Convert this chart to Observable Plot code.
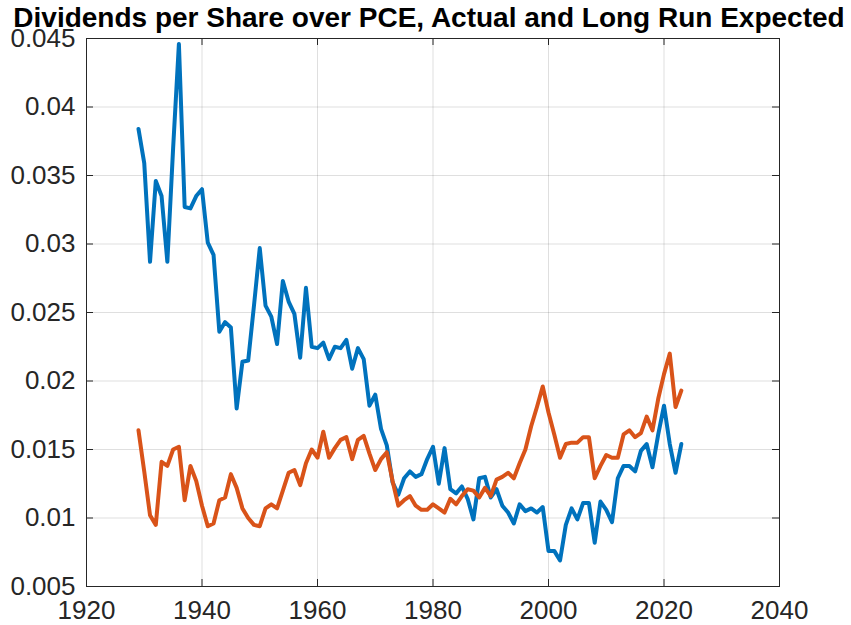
<!DOCTYPE html>
<html><head><meta charset="utf-8">
<script src="https://cdn.jsdelivr.net/npm/d3@7"></script>
<script src="https://cdn.jsdelivr.net/npm/@observablehq/plot@0.6"></script>
<style>body{margin:0;background:#fff;}</style>
</head><body><div id="chart"></div>
<script>
const title = "Dividends per Share over PCE, Actual and Long Run Expected";
const years = [1929,1930,1931,1932,1933,1934,1935,1936,1937,1938,1939,
1940,1941,1942,1943,1944,1945,1946,1947,1948,1949,
1950,1951,1952,1953,1954,1955,1956,1957,1958,1959,
1960,1961,1962,1963,1964,1965,1966,1967,1968,1969,
1970,1971,1972,1973,1974,1975,1976,1977,1978,1979,
1980,1981,1982,1983,1984,1985,1986,1987,1988,1989,
1990,1991,1992,1993,1994,1995,1996,1997,1998,1999,
2000,2001,2002,2003,2004,2005,2006,2007,2008,2009,
2010,2011,2012,2013,2014,2015,2016,2017,2018,2019,
2020,2021,2022,2023];
const actual = [0.0384,0.0359,0.0287,0.0346,0.0335,0.0287,0.0370,0.0446,0.0327,0.0326,0.0335,
0.0340,0.0301,0.0292,0.0236,0.0243,0.0239,0.0180,0.0214,0.0215,0.0255,
0.0297,0.0255,0.0247,0.0227,0.0273,0.0258,0.0249,0.0217,0.0268,0.0225,
0.0224,0.0228,0.0216,0.0225,0.0224,0.0230,0.0209,0.0224,0.0216,0.0182,
0.0190,0.0165,0.0153,0.0126,0.0117,0.0129,0.0134,0.0130,0.0132,0.0143,
0.0152,0.0125,0.0151,0.0121,0.0118,0.0123,0.0114,0.0099,0.0129,0.0130,
0.0115,0.0121,0.0109,0.0104,0.0096,0.0110,0.0105,0.0107,0.0104,0.0108,
0.0076,0.0076,0.0069,0.0095,0.0107,0.0099,0.0111,0.0111,0.0082,0.0112,
0.0106,0.0097,0.0129,0.0138,0.0138,0.0134,0.0149,0.0154,0.0137,0.0161,
0.0182,0.0154,0.0133,0.0154];
const expected = [0.0164,0.0134,0.0102,0.0095,0.0141,0.0138,0.0150,0.0152,0.0113,0.0138,0.0127,
0.0109,0.0094,0.0096,0.0113,0.0115,0.0132,0.0122,0.0107,0.0100,0.0095,
0.0094,0.0107,0.0110,0.0107,0.0120,0.0133,0.0135,0.0124,0.0140,0.0150,
0.0144,0.0163,0.0144,0.0151,0.0157,0.0159,0.0143,0.0157,0.0160,0.0147,
0.0135,0.0143,0.0148,0.0127,0.0109,0.0113,0.0116,0.0109,0.0106,0.0106,
0.0110,0.0107,0.0104,0.0114,0.0110,0.0116,0.0121,0.0120,0.0115,0.0122,
0.0116,0.0128,0.0130,0.0133,0.0129,0.0140,0.0150,0.0167,0.0181,0.0196,
0.0177,0.0161,0.0144,0.0154,0.0155,0.0155,0.0159,0.0159,0.0129,0.0138,
0.0146,0.0144,0.0144,0.0161,0.0164,0.0159,0.0162,0.0174,0.0164,0.0187,
0.0205,0.0220,0.0181,0.0193];
const xTicks = [1920,1940,1960,1980,2000,2020,2040];
const yTicks = [0.005,0.01,0.015,0.02,0.025,0.03,0.035,0.04,0.045];
const yTickLabels = ["0.005","0.01","0.015","0.02","0.025","0.03","0.035","0.04","0.045"];

const W = 851, H = 625, mL = 86, mR = 72, mT = 38, mB = 39;
const ph = H - mT - mB, pw = W - mL - mR;
const ink = "#262626";
const actualRows = years.map((y, i) => ({year: y, v: actual[i]}));
const expectedRows = years.map((y, i) => ({year: y, v: expected[i]}));

const chart = Plot.plot({
  width: W, height: H,
  marginLeft: mL, marginRight: mR, marginTop: mT, marginBottom: mB,
  style: {fontFamily: "'Liberation Sans', Arial, sans-serif", color: ink, background: "#fff"},
  x: {domain: [1920, 2040], label: null},
  y: {domain: [0.005, 0.045], label: null},
  marks: [
    Plot.gridX(xTicks, {stroke: ink, strokeOpacity: 0.15}),
    Plot.gridY(yTicks, {stroke: ink, strokeOpacity: 0.15}),
    Plot.line(actualRows, {x: "year", y: "v", stroke: "#0072BD", strokeWidth: 4, strokeLinejoin: "round"}),
    Plot.line(expectedRows, {x: "year", y: "v", stroke: "#D95319", strokeWidth: 4, strokeLinejoin: "round"}),
    Plot.tickX(xTicks, {x: d => d, insetTop: ph - 7, stroke: ink}),
    Plot.tickX(xTicks, {x: d => d, insetBottom: ph - 7, stroke: ink}),
    Plot.tickY(yTicks, {y: d => d, insetRight: pw - 7, stroke: ink}),
    Plot.tickY(yTicks, {y: d => d, insetLeft: pw - 7, stroke: ink}),
    Plot.frame({stroke: ink}),
    Plot.axisX(xTicks, {tickSize: 0, tickPadding: 14, fontSize: 26, fill: ink, label: null, tickFormat: d => String(d)}),
    Plot.axisY(yTicks, {tickSize: 0, tickPadding: 11, fontSize: 26, fill: ink, label: null, tickFormat: (d, i) => yTickLabels[i]}),
    Plot.text([title], {frameAnchor: "top", dy: -12, dx: -4, lineAnchor: "bottom", fontSize: 28, fontWeight: "bold", fill: "#000"})
  ]
});
document.getElementById("chart").appendChild(chart);
</script>
</body></html>
